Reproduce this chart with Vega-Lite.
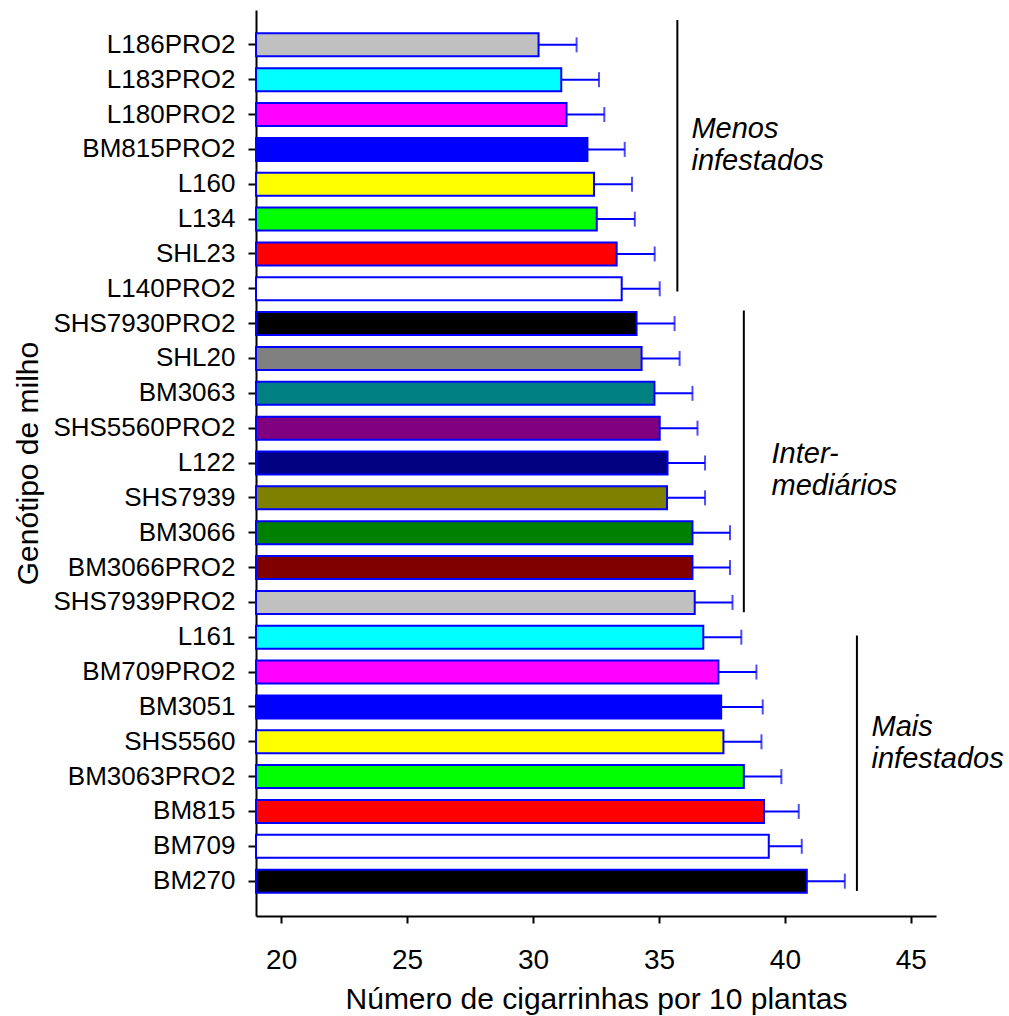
{
  "$schema": "https://vega.github.io/schema/vega-lite/v6.json",
  "width": 680,
  "height": 906,
  "autosize": {"type": "none"},
  "padding": {"left": 256, "top": 10, "right": 73, "bottom": 100},
  "background": "white",
  "config": {
    "view": {"stroke": null},
    "font": "Liberation Sans",
    "axis": {
      "domainColor": "black",
      "domainWidth": 2,
      "tickColor": "black",
      "tickWidth": 2,
      "labelColor": "black",
      "titleColor": "black",
      "titleFontWeight": "normal",
      "grid": false,
      "labelLimit": 0,
      "labelFont": "Liberation Sans",
      "titleFont": "Liberation Sans"
    }
  },
  "datasets": {
    "barras": [
      {"genotipo": "L186PRO2", "media": 30.22, "sup": 31.73},
      {"genotipo": "L183PRO2", "media": 31.12, "sup": 32.62},
      {"genotipo": "L180PRO2", "media": 31.33, "sup": 32.83},
      {"genotipo": "BM815PRO2", "media": 32.16, "sup": 33.64},
      {"genotipo": "L160", "media": 32.42, "sup": 33.93},
      {"genotipo": "L134", "media": 32.53, "sup": 34.04},
      {"genotipo": "SHL23", "media": 33.32, "sup": 34.83},
      {"genotipo": "L140PRO2", "media": 33.52, "sup": 35.03},
      {"genotipo": "SHS7930PRO2", "media": 34.11, "sup": 35.62},
      {"genotipo": "SHL20", "media": 34.31, "sup": 35.82},
      {"genotipo": "BM3063", "media": 34.82, "sup": 36.33},
      {"genotipo": "SHS5560PRO2", "media": 35.03, "sup": 36.53},
      {"genotipo": "L122", "media": 35.34, "sup": 36.83},
      {"genotipo": "SHS7939", "media": 35.32, "sup": 36.83},
      {"genotipo": "BM3066", "media": 36.33, "sup": 37.82},
      {"genotipo": "BM3066PRO2", "media": 36.33, "sup": 37.82},
      {"genotipo": "SHS7939PRO2", "media": 36.42, "sup": 37.92},
      {"genotipo": "L161", "media": 36.76, "sup": 38.27},
      {"genotipo": "BM709PRO2", "media": 37.36, "sup": 38.87},
      {"genotipo": "BM3051", "media": 37.47, "sup": 39.12},
      {"genotipo": "SHS5560", "media": 37.56, "sup": 39.07},
      {"genotipo": "BM3063PRO2", "media": 38.37, "sup": 39.86},
      {"genotipo": "BM815", "media": 39.17, "sup": 40.55},
      {"genotipo": "BM709", "media": 39.36, "sup": 40.67},
      {"genotipo": "BM270", "media": 40.87, "sup": 42.38}
    ]
  },
  "encoding": {
    "y": {
      "field": "genotipo",
      "type": "nominal",
      "scale": {
        "domain": ["L186PRO2","L183PRO2","L180PRO2","BM815PRO2","L160","L134","SHL23","L140PRO2","SHS7930PRO2","SHL20","BM3063","SHS5560PRO2","L122","SHS7939","BM3066","BM3066PRO2","SHS7939PRO2","L161","BM709PRO2","BM3051","SHS5560","BM3063PRO2","BM815","BM709","BM270"],
        "paddingInner": 0.34,
        "paddingOuter": 0.67
      },
      "axis": {
        "title": "Genótipo de milho",
        "titleFontSize": 30,
        "titlePadding": 13,
        "labelFontSize": 26,
        "labelPadding": 13,
        "tickSize": 8
      }
    }
  },
  "layer": [
    {
      "data": {"name": "barras"},
      "mark": {"type": "bar", "stroke": "#0000ff", "strokeWidth": 2},
      "encoding": {
        "x": {
          "field": "media",
          "type": "quantitative",
          "scale": {"domain": [19, 46], "nice": false, "zero": false},
          "axis": {
            "title": "Número de cigarrinhas por 10 plantas",
            "titleFontSize": 30,
            "titlePadding": 10,
            "labelFontSize": 28,
            "labelPadding": 23,
            "tickSize": 7,
            "values": [20, 25, 30, 35, 40, 45]
          }
        },
        "x2": {"datum": 19},
        "color": {
          "field": "genotipo",
          "type": "nominal",
          "legend": null,
          "scale": {
            "domain": ["L186PRO2","L183PRO2","L180PRO2","BM815PRO2","L160","L134","SHL23","L140PRO2","SHS7930PRO2","SHL20","BM3063","SHS5560PRO2","L122","SHS7939","BM3066","BM3066PRO2","SHS7939PRO2","L161","BM709PRO2","BM3051","SHS5560","BM3063PRO2","BM815","BM709","BM270"],
            "range": ["#c0c0c0","#00ffff","#ff00ff","#0000ff","#ffff00","#00ff00","#ff0000","#ffffff","#000000","#808080","#008080","#800080","#000080","#808000","#008000","#800000","#c0c0c0","#00ffff","#ff00ff","#0000ff","#ffff00","#00ff00","#ff0000","#ffffff","#000000"]
          }
        }
      }
    },
    {
      "data": {"name": "barras"},
      "mark": {"type": "rule", "color": "#0000ff", "strokeWidth": 2},
      "encoding": {
        "x": {"field": "media", "type": "quantitative"},
        "x2": {"field": "sup"}
      }
    },
    {
      "data": {"name": "barras"},
      "mark": {"type": "tick", "color": "#0000ff", "thickness": 2, "size": 15, "orient": "vertical"},
      "encoding": {
        "x": {"field": "sup", "type": "quantitative"}
      }
    },
    {
      "data": {"values": [{"inicio": "L186PRO2", "fim": "L140PRO2", "pos": 35.73}]},
      "mark": {"type": "rule", "color": "black", "strokeWidth": 2},
      "encoding": {
        "x": {"field": "pos", "type": "quantitative"},
        "y": {"field": "inicio", "type": "nominal", "bandPosition": -0.58},
        "y2": {"field": "fim", "bandPosition": 0.62}
      }
    },
    {
      "data": {"values": [{"inicio": "SHS7930PRO2", "fim": "SHS7939PRO2", "pos": 38.37}]},
      "mark": {"type": "rule", "color": "black", "strokeWidth": 2},
      "encoding": {
        "x": {"field": "pos", "type": "quantitative"},
        "y": {"field": "inicio", "type": "nominal", "bandPosition": -0.07},
        "y2": {"field": "fim", "bandPosition": 0.93}
      }
    },
    {
      "data": {"values": [{"inicio": "L161", "fim": "BM270", "pos": 42.86}]},
      "mark": {"type": "rule", "color": "black", "strokeWidth": 2},
      "encoding": {
        "x": {"field": "pos", "type": "quantitative"},
        "y": {"field": "inicio", "type": "nominal", "bandPosition": 0.42},
        "y2": {"field": "fim", "bandPosition": 0.93}
      }
    },
    {
      "data": {"values": [{"rotulo": ["Menos", "infestados"], "linha": "BM815PRO2", "pos": 36.29}]},
      "mark": {"type": "text", "align": "left", "baseline": "alphabetic", "fontSize": 29, "fontStyle": "italic", "lineHeight": 32, "color": "black"},
      "encoding": {
        "x": {"field": "pos", "type": "quantitative"},
        "y": {"field": "linha", "type": "nominal", "bandPosition": 0},
        "text": {"field": "rotulo"}
      }
    },
    {
      "data": {"values": [{"rotulo": ["Inter-", "mediários"], "linha": "L122", "pos": 39.47}]},
      "mark": {"type": "text", "align": "left", "baseline": "alphabetic", "fontSize": 29, "fontStyle": "italic", "lineHeight": 32, "color": "black"},
      "encoding": {
        "x": {"field": "pos", "type": "quantitative"},
        "y": {"field": "linha", "type": "nominal", "bandPosition": 0.5},
        "text": {"field": "rotulo"}
      }
    },
    {
      "data": {"values": [{"rotulo": ["Mais", "infestados"], "linha": "SHS5560", "pos": 43.44}]},
      "mark": {"type": "text", "align": "left", "baseline": "alphabetic", "fontSize": 29, "fontStyle": "italic", "lineHeight": 32, "color": "black"},
      "encoding": {
        "x": {"field": "pos", "type": "quantitative"},
        "y": {"field": "linha", "type": "nominal", "bandPosition": 0.27},
        "text": {"field": "rotulo"}
      }
    }
  ]
}
